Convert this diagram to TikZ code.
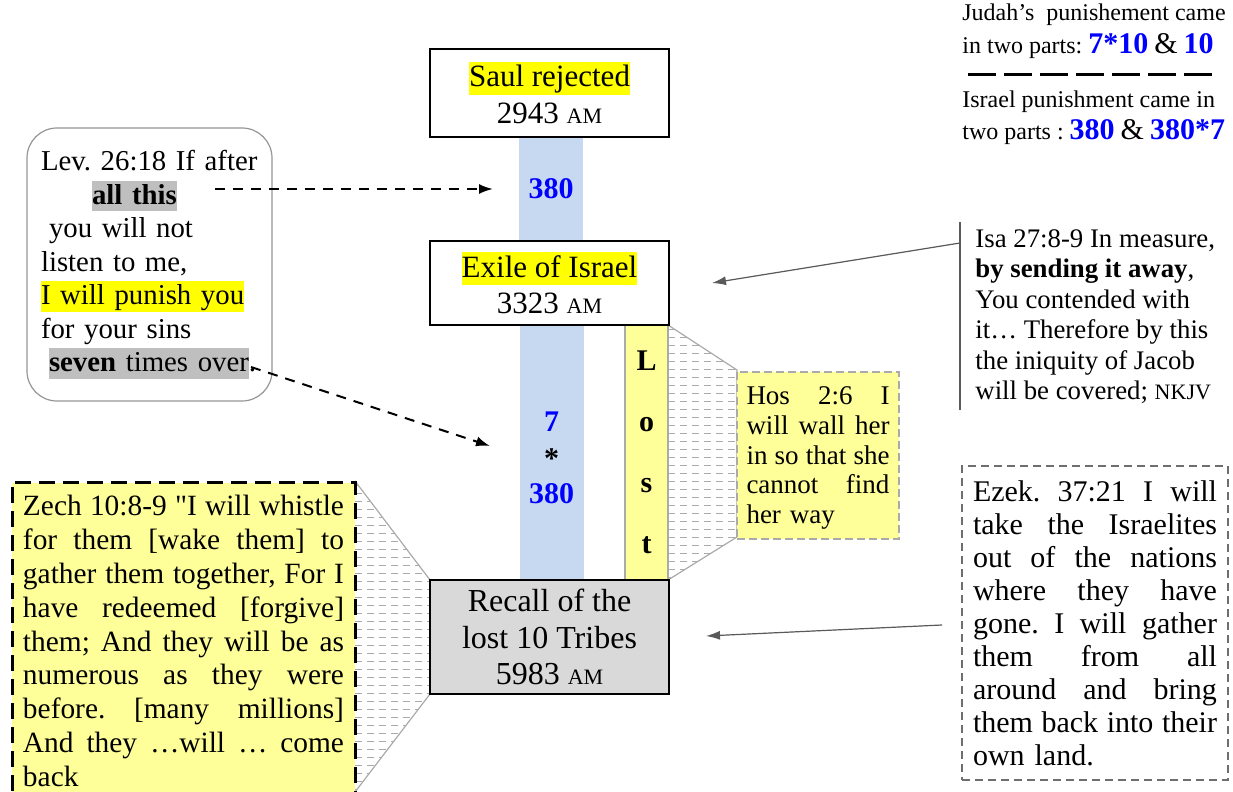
\documentclass[tikz,border=0pt]{standalone}
\usepackage{fontspec}
\setmainfont{Liberation Serif}
\usetikzlibrary{arrows.meta}
\definecolor{barblue}{RGB}{198,217,241}
\definecolor{numblue}{RGB}{0,0,255}
\definecolor{hlyellow}{RGB}{255,255,0}
\definecolor{hlgray}{RGB}{191,191,191}
\definecolor{paleyellow}{RGB}{255,255,153}
\definecolor{recallgray}{RGB}{217,217,217}
\definecolor{edgegray}{RGB}{170,170,170}
\definecolor{hatchgray}{RGB}{170,170,170}
\definecolor{levgray}{RGB}{150,150,150}
\definecolor{ezekgray}{RGB}{110,110,110}
\definecolor{arrowgray}{RGB}{90,90,90}
\newcommand{\hlt}[2]{{\setlength{\fboxsep}{0pt}\colorbox{#1}{\vrule height 0.8em depth 0.25em width 0pt #2}}}
\newcommand{\amsc}{{\fontsize{11}{11}\selectfont AM}}
\newcommand{\jline}[1]{\makebox[\hsize][s]{\spaceskip=0pt\xspaceskip=0pt #1}}
\newcommand{\bnum}[1]{{\fontsize{15}{15}\selectfont\bfseries\color{numblue}#1}}
\newcommand{\bamp}{{\fontsize{15}{15}\selectfont\&}}
\tikzset{
  datebox/.style={rectangle,draw=black,line width=0.7pt,fill=white,align=center,minimum width=119.5pt,inner sep=0pt,font=\fontsize{15.5}{18.25}\selectfont},
  barnode/.style={rectangle,fill=barblue,minimum width=32pt,inner sep=0pt,align=center,text=numblue,font=\fontsize{15}{16}\selectfont\bfseries},
  lostbar/.style={rectangle,fill=paleyellow,draw=edgegray,line width=0.6pt,minimum width=21.5pt,minimum height=127.5pt,inner sep=0pt,align=center,font=\fontsize{15}{30.5}\selectfont\bfseries},
  levbox/.style={rectangle,rounded corners=15pt,draw=levgray,line width=0.6pt,fill=white,minimum width=122.5pt,minimum height=136.5pt,text width=108.5pt,inner xsep=7pt,align=left,font=\fontsize{14.4}{16.75}\selectfont},
  hosbox/.style={rectangle,fill=paleyellow,draw=edgegray,line width=1pt,dash pattern=on 4pt off 2pt,minimum width=81pt,minimum height=83.5pt,text width=71.5pt,inner xsep=4.75pt,align=left,font=\fontsize{13.5}{14.9}\selectfont},
  zechbox/.style={rectangle,fill=paleyellow,draw=black,line width=1.5pt,dash pattern=on 8pt off 4pt,text width=160.5pt,inner xsep=5.5pt,inner ysep=6.5pt,align=left,font=\fontsize{14.7}{16.9}\selectfont},
  ezekbox/.style={rectangle,draw=ezekgray,line width=0.6pt,dash pattern=on 4pt off 2.5pt,minimum width=133pt,minimum height=157pt,text width=122pt,inner xsep=5.5pt,align=left,font=\fontsize{15}{16.5}\selectfont},
  isatext/.style={inner sep=0pt,align=left,font=\fontsize{13.4}{15.25}\selectfont},
  notetext/.style={inner sep=0pt,align=left,font=\fontsize{12}{16.5}\selectfont},
  hatchline/.style={draw=hatchgray,line width=0.5pt,dash pattern=on 3.5pt off 2.5pt},
  edgeline/.style={draw=edgegray,line width=0.6pt},
  dasharr/.style={-{Latex[length=7pt,width=5pt]},line width=1pt,dash pattern=on 5pt off 4pt},
  grayarr/.style={-{Latex[length=7pt,width=4.5pt]},draw=arrowgray,fill=arrowgray,line width=0.6pt},
  sepdash/.style={line width=1.5pt,dash pattern=on 14pt off 4pt}
}
\begin{document}
\frenchspacing
\begin{tikzpicture}[x=0.5pt,y=-0.5pt]
\useasboundingbox (0,0) rectangle (1233,792);

% hatched wedges
\begin{scope}
  \clip (668,325) -- (737,370) -- (737,537) -- (668,580) -- cycle;
  \foreach \y in {329,337,...,580} \draw[hatchline] (668,\y) -- (737,\y);
\end{scope}
\draw[edgeline] (668,325) -- (737,370) -- (737,537) -- (668,580);
\begin{scope}
  \clip (355,481) -- (430,580) -- (430,694) -- (355,792) -- cycle;
  \foreach \y in {485,493,...,792} \draw[hatchline] (355,\y) -- (430,\y);
\end{scope}
\draw[edgeline] (355,481) -- (430,580) -- (430,694) -- (355,792);

% time bars
\node[barnode,minimum height=52pt] (bar1) at (551,189) {380};
\node[barnode,minimum height=127.5pt] (bar2) at (551.5,452.5) {\rule{0pt}{15.5pt}7\\[2.5pt]\textcolor{black}{*}\\[1.5pt]380};
\node[lostbar] (lost) at (646.5,452.5) {L\\o\\s\\t};

% dates
\node[datebox,minimum height=44pt] (saul) at (549.5,93) {\hlt{hlyellow}{Saul rejected}\\2943 \amsc};
\node[datebox,minimum height=42pt,font=\fontsize{15.5}{18}\selectfont] (exile) at (549.5,283) {\hlt{hlyellow}{Exile of Israel}\\3323 \amsc};
\node[datebox,fill=recallgray,minimum height=57pt,font=\fontsize{16}{18.25}\selectfont] (recall) at (549.5,637) {Recall of the\\lost 10 Tribes\\5983 \amsc};

% verses
\node[hosbox] (hos) at (818,455) {\rule{0pt}{12pt}\jline{Hos 2:6 I}\\\jline{will wall her}\\\jline{in so that she}\\\jline{cannot find}\\her way};
\node[zechbox,anchor=north] (zech) at (183.5,481) {\jline{Zech 10:8-9 \textquotedbl I will whistle}\\\jline{for them [wake them] to}\\\jline{gather them together, For I}\\\jline{have redeemed [forgive]}\\\jline{them; And they will be as}\\\jline{numerous as they were}\\\jline{before. [many millions]}\\\jline{And they …will … come}\\back};
\node[levbox] (lev) at (149.5,264.5) {Lev. 26:18 If after\\
  \hspace*{25.5pt}\hlt{hlgray}{\textbf{all this}}\\
  \hspace*{4pt}you will not\\
  listen to me,\\
  \hlt{hlyellow}{I will punish you}\\
  for your sins\\
  \hspace*{4pt}\hlt{hlgray}{\textbf{seven} times over}.};
\node[ezekbox] (ezek) at (1095,623) {\jline{Ezek. 37:21 I will}\\\jline{take the Israelites}\\\jline{out of the nations}\\\jline{where they have}\\\jline{gone. I will gather}\\\jline{them from all}\\\jline{around and bring}\\\jline{them back into their}\\own land.};
\node[isatext,anchor=north west] (isa) at (975,229) {Isa 27:8-9 In measure,\\\textbf{by sending it away},\\You contended with\\it… Therefore by this\\the iniquity of Jacob\\will be covered; {\fontsize{11}{11}\selectfont NKJV}};
\draw[draw=arrowgray,line width=0.6pt] (960,222) -- (960,410);

% notes
\node[notetext,anchor=north west] (judah) at (962,3) {Judah’s\ \ punishement came\\in two parts: \bnum{7*10} \bamp{} \bnum{10}};
\node[notetext,anchor=north west,font=\fontsize{12}{16}\selectfont] (israel) at (962,90) {Israel punishment came in\\two parts : \bnum{380} \bamp{} \bnum{380*7}};
\coordinate (sepL) at (968,75);
\coordinate (sepR) at (1217,75);
\draw[sepdash] (sepL) -- (sepR);

% connectors
\coordinate (allthis) at (215,189);
\coordinate (tipA) at (493,189);
\coordinate (timesover) at (251,367);
\coordinate (tipB) at (490,446);
\draw[dasharr] (allthis) -- (tipA);
\draw[dasharr] (timesover) -- (tipB);
\coordinate (isaL) at (960,243);
\coordinate (tipC) at (712,283);
\coordinate (ezekL) at (942,625);
\coordinate (tipD) at (706,636);
\draw[grayarr] (isaL) -- (tipC);
\draw[grayarr] (ezekL) -- (tipD);
\end{tikzpicture}
\end{document}
